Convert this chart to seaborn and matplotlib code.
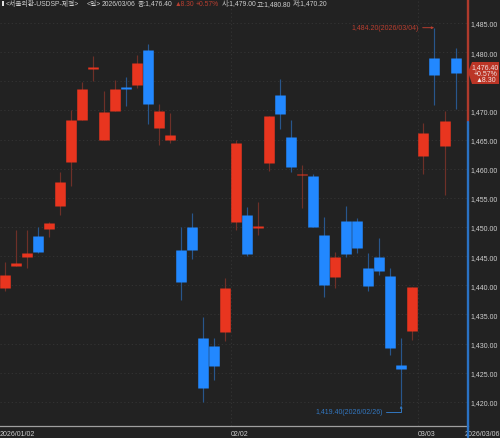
import matplotlib
matplotlib.use('Agg')
import matplotlib.pyplot as plt
from matplotlib.patches import Polygon, Rectangle
import numpy as np
import pandas as pd
import seaborn as sns

opens = [1439.5, 1443.4, 1444.9, 1448.5, 1449.7, 1453.6, 1461.2, 1468.4, 1477.1, 1464.9, 1469.9, 1474.0,
         1474.4, 1480.4, 1467.0, 1464.9, 1446.1, 1450.0, 1431.0, 1429.6, 1432.0, 1450.9, 1452.1, 1449.8,
         1461.0, 1472.7, 1465.4, 1458.9, 1458.8, 1448.6, 1441.4, 1451.0, 1451.0, 1443.0, 1444.9, 1441.6,
         1426.3, 1432.2, 1462.2, 1479.0, 1463.9, 1479.0]
closes = [1441.8, 1443.8, 1445.5, 1445.7, 1450.7, 1457.7, 1468.4, 1473.7, 1477.5, 1469.7, 1473.7, 1473.7,
          1478.1, 1471.1, 1469.9, 1465.8, 1440.6, 1446.1, 1422.4, 1426.2, 1439.5, 1464.4, 1445.4, 1450.2,
          1469.0, 1469.4, 1460.3, 1459.1, 1450.0, 1440.1, 1444.9, 1445.4, 1446.4, 1439.9, 1442.5, 1429.3,
          1425.7, 1439.7, 1466.1, 1476.1, 1468.2, 1476.4]
highs = [1444.0, 1449.5, 1449.5, 1450.0, 1450.9, 1459.4, 1470.1, 1474.9, 1479.3, 1473.3, 1475.2, 1475.7,
         1479.5, 1481.4, 1471.1, 1469.6, 1450.0, 1452.4, 1434.6, 1431.0, 1441.3, 1464.9, 1453.4, 1454.3,
         1469.0, 1475.4, 1468.4, 1460.6, 1459.1, 1451.7, 1445.7, 1453.6, 1451.6, 1445.5, 1448.1, 1443.0,
         1431.0, 1439.7, 1467.8, 1484.2, 1469.9, 1480.8]
lows = [1439.0, 1443.4, 1443.0, 1445.6, 1448.3, 1452.1, 1457.0, 1468.4, 1475.1, 1464.9, 1469.9, 1470.8,
        1473.9, 1467.7, 1464.1, 1464.4, 1437.5, 1444.5, 1420.0, 1423.8, 1430.5, 1449.5, 1445.0, 1448.6,
        1459.6, 1466.8, 1459.4, 1453.3, 1450.0, 1438.0, 1439.5, 1444.9, 1445.5, 1439.0, 1441.8, 1428.1,
        1419.4, 1430.6, 1459.1, 1470.9, 1455.5, 1470.2]

price_ticks = [1420, 1425, 1430, 1435, 1440, 1445, 1450, 1455, 1460, 1465, 1470, 1475, 1480, 1485]
price_labels = ['1,420.00', '1,425.00', '1,430.00', '1,435.00', '1,440.00', '1,445.00', '1,450.00',
                '1,455.00', '1,460.00', '1,465.00', '1,470.00', '', '1,480.00', '1,485.00']
date_ticks = [0, 6, 11, 16, 21, 26, 31, 33, 38]
date_labels = ['2026/01/02', '', '', '', '02/02', '', '', '', '03/03']
last_date = '2026/03/06'
month_starts = [21, 38]
prev_close = 1468.1

BG = '#222222'
RED = '#e8351f'
BLUE = '#2288ff'
RED_WICK = '#6e3028'
BLUE_WICK = '#28568c'
RED_TXT = '#b83e30'
BLUE_TXT = '#3277c0'
TXT = '#cfcfcf'
W, H = 500, 439
FS = 5.0

sns.set_theme(style='dark', rc={'axes.facecolor': BG, 'figure.facecolor': BG, 'axes.grid': False})
plt.rcParams['font.family'] = ['Liberation Sans', 'Noto Sans CJK KR', 'DejaVu Sans']

df = pd.DataFrame({'i': np.arange(len(opens)), 'open': opens, 'close': closes, 'high': highs, 'low': lows})
df['side'] = np.where(df['close'] >= df['open'], 'up', 'down')
wicks = df.melt(id_vars=['i', 'side'], value_vars=['high', 'low'], value_name='price')
bodies = df.melt(id_vars=['i', 'side'], value_vars=['open', 'close'], value_name='price')

fig = plt.figure(figsize=(W / 100, H / 100), dpi=100)
ax = fig.add_axes([0, 12 / H, 468 / W, 427 / H])

sns.lineplot(data=wicks, x='i', y='price', hue='side', units='i', estimator=None, legend=False,
             palette={'up': RED_WICK, 'down': BLUE_WICK}, linewidth=0.85, solid_capstyle='butt', ax=ax)
sns.lineplot(data=bodies, x='i', y='price', hue='side', units='i', estimator=None, legend=False,
             palette={'up': RED, 'down': BLUE}, linewidth=7.6, solid_capstyle='butt', ax=ax)

ax.set_xlim(-0.5, 42.08)
ax.set_ylim(1415.87, 1489.12)
ax.set_xlabel('')
ax.set_ylabel('')

# grid
for p in price_ticks:
    ax.axhline(p, color='#363636', lw=0.6, ls=(0, (1.5, 3)), zorder=0)
for m in month_starts:
    ax.axvline(m - 0.5, color='#363636', lw=0.6, ls=(0, (1.5, 3)), zorder=0)

# price axis
ax.yaxis.tick_right()
ax.set_yticks(price_ticks, price_labels)
ax.set_yticks(np.arange(1416, 1490), minor=True)
ax.tick_params(axis='y', which='major', length=1.6, width=0.7, pad=0.2, labelsize=FS, labelcolor=TXT)
ax.tick_params(axis='y', which='minor', length=1.0, width=0.6)
for t in ax.yaxis.get_major_ticks() + ax.yaxis.get_minor_ticks():
    t.tick2line.set_color(RED_TXT if t.get_loc() > prev_close else BLUE_TXT)

# date axis
ax.set_xticks([d - 0.5 for d in date_ticks], date_labels)
ax.tick_params(axis='x', which='major', length=1.5, width=0.8, pad=1.6, color='#aaaaaa', labelsize=FS, labelcolor=TXT)
for lab in ax.get_xticklabels():
    lab.set_ha('left')
ax.annotate(last_date, xy=(1, 0), xycoords='axes fraction', xytext=(-2.2, -3.2), textcoords='offset points',
            color=TXT, fontsize=FS, ha='left', va='top', annotation_clip=False)

for s in ['top', 'left', 'right']:
    ax.spines[s].set_visible(False)
ax.spines['bottom'].set_color('#a0a0a0')
ax.spines['bottom'].set_linewidth(0.9)

# two coloured axis line, red above previous close
split = ax.get_yaxis_transform()
ax.plot([1, 1], [prev_close, 1489.12], color='#b03a2c', lw=1.7, transform=split, clip_on=False, zorder=6)
ax.plot([1, 1], [1414, prev_close], color='#2a72c4', lw=1.7, transform=split, clip_on=False, zorder=6)

# high / low labels
ax.annotate('1,484.20(2026/03/04)', xy=(39, 1484.2), xytext=(37.6, 1484.2), color=RED_TXT, fontsize=FS,
            ha='right', va='center',
            arrowprops=dict(arrowstyle='-|>,head_width=0.12,head_length=0.25', color=RED_TXT, lw=0.7,
                            shrinkA=0.5, shrinkB=0))
ax.annotate('1,419.40(2026/02/26)', xy=(36, 1419.4), xytext=(34.3, 1418.3), color=BLUE_TXT, fontsize=FS,
            ha='right', va='center',
            arrowprops=dict(arrowstyle='-|>,head_width=0.12,head_length=0.25', color=BLUE_TXT, lw=0.7,
                            shrinkA=0.5, shrinkB=0, connectionstyle='angle,angleA=0,angleB=90,rad=0'))


def fx(x):
    return x / W


def fy(y):
    return 1 - y / H


# current price tag
tag = Polygon([(fx(468), fy(73)), (fx(472), fy(63)), (fx(499), fy(63)), (fx(499), fy(85)), (fx(472), fy(85))],
              closed=True, transform=fig.transFigure, facecolor='#bb3526', edgecolor='none', clip_on=False, zorder=8)
ax.add_patch(tag)
for y, s in [(67.5, '1,476.40'), (74, '+0.57%'), (81, '▲8.30')]:
    ax.text(fx(485.5), fy(y), s, transform=fig.transFigure, color='#f0e4e2', fontsize=FS, ha='center', va='center',
            zorder=9, clip_on=False)

# header
hdr = [(6, '<서울외환-USDSP-체결>', TXT), (87, '<일>', TXT), (102, '2026/03/06', TXT),
       (138, '종:1,476.40', TXT), (175, '▲8.30', RED_TXT), (196, '+0.57%', RED_TXT),
       (222, '시:1,479.00', TXT), (257, '고:1,480.80', TXT), (293, '저:1,470.20', TXT)]
for x, s, c in hdr:
    fig.text(fx(x), fy(4.3), s, color=c, fontsize=4.9, ha='left', va='center')
ax.add_patch(Rectangle((fx(2), fy(7)), 2 / W, 5 / H, transform=fig.transFigure, facecolor='#e0e0e0',
                       edgecolor='none', clip_on=False, zorder=8))

fig.savefig('out.png', dpi=100, facecolor=BG)
